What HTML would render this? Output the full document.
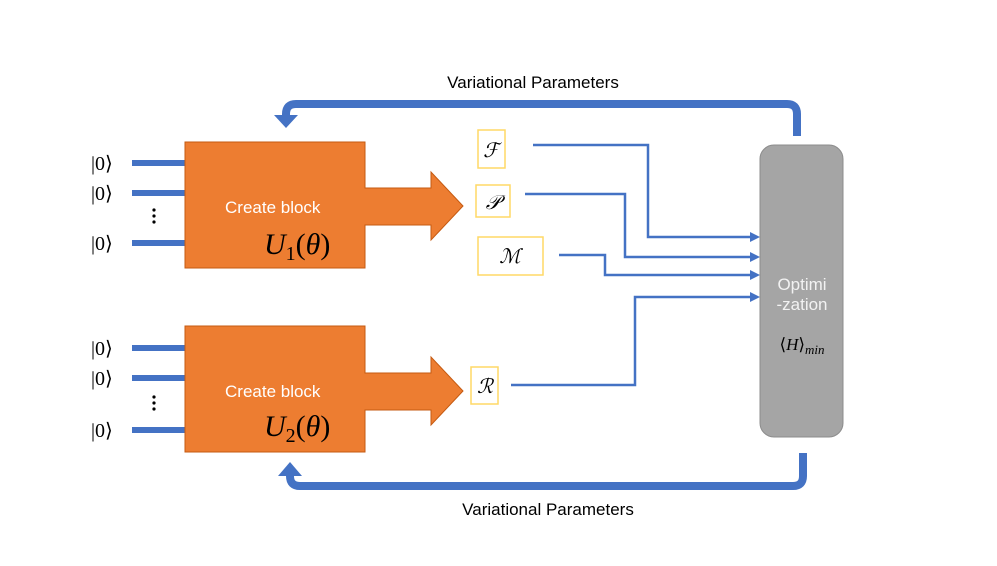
<!DOCTYPE html>
<html><head><meta charset="utf-8"><style>
body{margin:0;background:#fff;}
svg text{font-family:"Liberation Sans",sans-serif;}
</style></head><body>
<svg width="997" height="561" viewBox="0 0 997 561" xmlns="http://www.w3.org/2000/svg">
<rect width="997" height="561" fill="#fff"/>
<g stroke="#4472c4" stroke-width="6">
<line x1="132" y1="163" x2="186" y2="163"/><line x1="132" y1="193" x2="186" y2="193"/><line x1="132" y1="243" x2="186" y2="243"/>
<line x1="132" y1="348" x2="186" y2="348"/><line x1="132" y1="378" x2="186" y2="378"/><line x1="132" y1="430" x2="186" y2="430"/>
</g>
<g font-size="20" fill="#000">
<text x="91" y="170" style="font-family:'Liberation Serif',serif">|0⟩</text>
<text x="91" y="200" style="font-family:'Liberation Serif',serif">|0⟩</text>
<text x="91" y="250" style="font-family:'Liberation Serif',serif">|0⟩</text>
<text x="91" y="355" style="font-family:'Liberation Serif',serif">|0⟩</text>
<text x="91" y="385" style="font-family:'Liberation Serif',serif">|0⟩</text>
<text x="91" y="437" style="font-family:'Liberation Serif',serif">|0⟩</text>
</g>
<g fill="#000"><circle cx="154" cy="210" r="1.6"/><circle cx="154" cy="216" r="1.6"/><circle cx="154" cy="222" r="1.6"/>
<circle cx="154" cy="397" r="1.6"/><circle cx="154" cy="403" r="1.6"/><circle cx="154" cy="409" r="1.6"/></g>
<g fill="#ed7d31" stroke="#c55a11" stroke-width="1">
<path d="M185 142 H365 V188 H431 V172 L463 206 L431 240 V225 H365 V268 H185 Z"/>
<path d="M185 326 H365 V373 H431 V357 L463 391 L431 425 V410 H365 V452 H185 Z"/>
</g>
<g fill="#fff" font-size="17"><text x="225" y="213">Create block</text><text x="225" y="397">Create block</text></g>
<g font-size="30" fill="#000" style="font-style:italic"><text x="264" y="254" style="font-family:'Liberation Serif',serif">U<tspan font-size="20" dy="6" font-style="normal">1</tspan><tspan dy="-6" font-style="normal">(</tspan>θ<tspan font-style="normal">)</tspan></text>
<text x="264" y="436" style="font-family:'Liberation Serif',serif">U<tspan font-size="20" dy="6" font-style="normal">2</tspan><tspan dy="-6" font-style="normal">(</tspan>θ<tspan font-style="normal">)</tspan></text></g>
<g fill="#fff" stroke="#ffd966" stroke-width="1.5">
<rect x="478" y="130" width="27" height="38"/><rect x="476" y="185" width="34" height="32"/>
<rect x="478" y="237" width="65" height="38"/><rect x="471" y="367" width="27" height="37"/>
</g>
<g font-size="20" fill="#000" style="font-style:italic" text-anchor="middle">
<text x="491" y="157" style="font-family:'Liberation Serif',serif">ℱ</text>
<text x="493" y="209" style="font-family:'Liberation Serif',serif">𝒫</text>
<text x="510" y="263" style="font-family:'Liberation Serif',serif">ℳ</text>
<text x="485" y="393" style="font-family:'Liberation Serif',serif">ℛ</text>
</g>
<g stroke="#4472c4" stroke-width="2.5" fill="none">
<path d="M533 145 H648 V237 H752"/><path d="M525 194 H625 V257 H752"/>
<path d="M559 255 H605 V275 H752"/><path d="M511 385 H635 V297 H752"/>
</g>
<g fill="#4472c4"><path d="M760 237 l-10 -5 v10z"/><path d="M760 257 l-10 -5 v10z"/><path d="M760 275 l-10 -5 v10z"/><path d="M760 297 l-10 -5 v10z"/></g>
<rect x="760" y="145" width="83" height="292" rx="14" fill="#a5a5a5" stroke="#8c8c8c"/>
<g fill="#f2f2f2" font-size="17" text-anchor="middle"><text x="802" y="290">Optimi</text><text x="802" y="310">-zation</text></g>
<text x="802" y="350" text-anchor="middle" font-size="17" style="font-family:'Liberation Serif',serif">⟨<tspan font-style="italic">H</tspan>⟩<tspan font-size="13" dy="4" font-style="italic">min</tspan></text>
<g stroke="#4472c4" stroke-width="8" fill="none">
<path d="M797 136 V114 Q797 104 787 104 H296 Q286 104 286 114 V116"/>
<path d="M803 453 V476 Q803 486 793 486 H300 Q290 486 290 476 V474"/>
</g>
<g fill="#4472c4"><path d="M274 115 H298 L286 128Z"/><path d="M278 476 H302 L290 462Z"/></g>
<g font-size="17" fill="#000" text-anchor="middle"><text x="533" y="88">Variational Parameters</text><text x="548" y="515">Variational Parameters</text></g>
</svg>
</body></html>
